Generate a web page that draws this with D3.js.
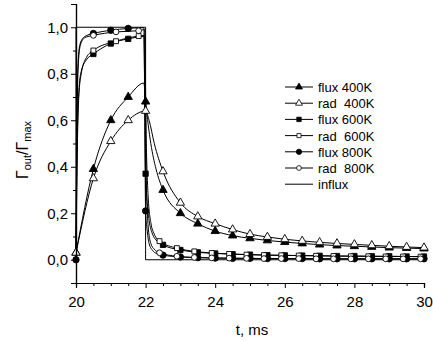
<!DOCTYPE html>
<html>
<head>
<meta charset="utf-8">
<script src="https://cdn.jsdelivr.net/npm/d3@7"></script>
<style>
  body { margin: 0; background: #fff; }
  text { font-family: "Liberation Sans", Arial, sans-serif; fill: #000; }
</style>
</head>
<body>
<svg id="chart" width="433" height="341"></svg>
<script>
// [t (ms), value, marker? 1/0]
const flux400 = [
  [20, 0.03, 1], [20.5, 0.39, 1], [21, 0.6, 1], [21.5, 0.7, 1], [21.95, 0.76, 0],
  [22, 0.68, 1], [22.15, 0.5, 0], [22.3, 0.39, 0], [22.5, 0.3, 1], [23, 0.2, 1],
  [23.5, 0.155, 1], [24, 0.123, 1], [24.5, 0.104, 1], [25, 0.092, 1], [25.5, 0.083, 1],
  [26, 0.076, 1], [26.5, 0.07, 1], [27, 0.065, 1], [27.5, 0.061, 1], [28, 0.058, 1],
  [28.5, 0.055, 1], [29, 0.052, 1], [29.5, 0.05, 1], [30, 0.048, 1]
];
const rad400 = [
  [20, 0.03, 1], [20.5, 0.35, 1], [21, 0.51, 1], [21.5, 0.6, 1], [22, 0.64, 1],
  [22.1, 0.6, 0], [22.25, 0.5, 0], [22.5, 0.38, 1], [23, 0.245, 1], [23.5, 0.186, 1],
  [24, 0.155, 1], [24.5, 0.13, 1], [25, 0.11, 1], [25.5, 0.098, 1], [26, 0.088, 1],
  [26.5, 0.081, 1], [27, 0.075, 1], [27.5, 0.07, 1], [28, 0.066, 1], [28.5, 0.062, 1],
  [29, 0.058, 1], [29.5, 0.055, 1], [30, 0.052, 1]
];
const flux600 = [
  [20, 0, 0], [20.03, 0.45, 0], [20.08, 0.72, 0], [20.15, 0.81, 0], [20.3, 0.86, 0],
  [20.5, 0.885, 1], [21, 0.93, 1], [21.5, 0.95, 1], [21.95, 0.96, 0], [22, 0.37, 1],
  [22.05, 0.24, 0], [22.1, 0.17, 0], [22.2, 0.11, 0], [22.3, 0.085, 0], [22.5, 0.064, 1],
  [23, 0.042, 1], [23.5, 0.032, 1], [24, 0.027, 1], [24.5, 0.024, 1], [25, 0.022, 1],
  [25.5, 0.02, 1], [26, 0.019, 1], [26.5, 0.018, 1], [27, 0.017, 1], [27.5, 0.016, 1],
  [28, 0.016, 1], [28.5, 0.015, 1], [29, 0.015, 1], [29.5, 0.014, 1], [30, 0.014, 1]
];
const rad600 = [
  [20, 0, 0], [20.03, 0.4, 0], [20.08, 0.7, 0], [20.15, 0.8, 0], [20.3, 0.87, 0],
  [20.5, 0.9, 1], [21.15, 0.94, 1], [21.8, 0.962, 1], [21.97, 0.965, 0], [22.02, 0.5, 0],
  [22.07, 0.28, 0], [22.15, 0.16, 0], [22.25, 0.11, 0], [22.4, 0.08, 1], [22.9, 0.05, 1],
  [23.4, 0.036, 1], [23.9, 0.029, 1], [24.4, 0.025, 1], [24.9, 0.022, 1], [25.4, 0.02, 1],
  [25.9, 0.019, 1], [26.4, 0.018, 1], [26.9, 0.017, 1], [27.4, 0.016, 1], [27.9, 0.015, 1],
  [28.4, 0.015, 1], [28.9, 0.014, 1], [29.4, 0.014, 1], [29.9, 0.013, 1]
];
const flux800 = [
  [20, 0, 1], [20.02, 0.5, 0], [20.06, 0.85, 0], [20.12, 0.93, 0], [20.25, 0.96, 0],
  [20.5, 0.973, 1], [21, 0.987, 1], [21.5, 0.995, 1], [21.95, 0.998, 0], [22, 0.21, 1],
  [22.05, 0.12, 0], [22.1, 0.07, 0], [22.2, 0.04, 0], [22.3, 0.028, 0], [22.5, 0.02, 1],
  [23, 0.012, 1], [23.5, 0.009, 1], [24, 0.007, 1], [24.5, 0.006, 1], [25, 0.006, 1],
  [25.5, 0.005, 1], [26, 0.005, 1], [26.5, 0.005, 1], [27, 0.004, 1], [27.5, 0.004, 1],
  [28, 0.004, 1], [28.5, 0.004, 1], [29, 0.004, 1], [29.5, 0.004, 1], [30, 0.004, 1]
];
const rad800 = [
  [20, 0, 0], [20.02, 0.45, 0], [20.06, 0.82, 0], [20.12, 0.92, 0], [20.25, 0.955, 0],
  [20.5, 0.965, 1], [21.15, 0.98, 1], [21.8, 0.985, 1], [21.97, 0.99, 0], [22.02, 0.35, 0],
  [22.07, 0.15, 0], [22.15, 0.07, 0], [22.25, 0.045, 0], [22.4, 0.03, 1], [22.9, 0.015, 1],
  [23.4, 0.01, 1], [23.9, 0.008, 1], [24.4, 0.007, 1], [24.9, 0.006, 1], [25.4, 0.005, 1],
  [25.9, 0.005, 1], [26.4, 0.005, 1], [26.9, 0.004, 1], [27.4, 0.004, 1], [27.9, 0.004, 1],
  [28.4, 0.004, 1], [28.9, 0.004, 1], [29.4, 0.004, 1], [29.9, 0.004, 1]
];
const influx = [[20, 0], [20, 1], [22, 1], [22, 0], [30, 0]];

const xTicks = [20, 22, 24, 26, 28, 30];
const yTicks = [0, 0.2, 0.4, 0.6, 0.8, 1.0];

const series = [
  { name: "flux 400K", data: flux400, symbol: d3.symbolTriangle, filled: true, size: 30 },
  { name: "rad  400K", data: rad400, symbol: d3.symbolTriangle, filled: false, size: 30 },
  { name: "flux 600K", data: flux600, symbol: d3.symbolSquare, filled: true, size: 28 },
  { name: "rad  600K", data: rad600, symbol: d3.symbolSquare, filled: false, size: 24 },
  { name: "flux 800K", data: flux800, symbol: d3.symbolCircle, filled: true, size: 32 },
  { name: "rad  800K", data: rad800, symbol: d3.symbolCircle, filled: false, size: 26 }
];

const svg = d3.select("#chart");
const margin = { top: 4, right: 9, bottom: 58, left: 76 };
const width = 433 - margin.left - margin.right;
const height = 341 - margin.top - margin.bottom;

const x = d3.scaleLinear().domain([20, 30]).range([0, width]);
const y = d3.scaleLinear().domain([-0.1, 1.1]).range([height, 0]);

const g = svg.append("g").attr("transform", `translate(${margin.left},${margin.top})`);

// influx step
g.append("path")
  .datum(influx)
  .attr("fill", "none")
  .attr("stroke", "#000")
  .attr("stroke-width", 1)
  .attr("d", d3.line().x((d) => x(d[0])).y((d) => y(d[1])));

// curves
const line = d3.line().x((d) => x(d[0])).y((d) => y(d[1])).curve(d3.curveMonotoneX);
series.forEach((s) => {
  g.append("path")
    .datum(s.data)
    .attr("fill", "none")
    .attr("stroke", "#000")
    .attr("stroke-width", 1)
    .attr("d", line);
});

// markers
series.forEach((s) => {
  g.selectAll(null)
    .data(s.data.filter((d) => d[2]))
    .enter()
    .append("path")
    .attr("transform", (d) => `translate(${x(d[0])},${y(d[1])})`)
    .attr("d", d3.symbol().type(s.symbol).size(s.size))
    .attr("fill", s.filled ? "#000" : "#fff")
    .attr("stroke", "#000")
    .attr("stroke-width", 0.9);
});

// X axis
const xAxis = g.append("g").attr("transform", `translate(0,${height})`);
xAxis.call(d3.axisBottom(x).tickValues(xTicks).tickSize(5).tickPadding(8).tickFormat(d3.format("d")));
xAxis.append("g").call(
  d3.axisBottom(x).tickValues(d3.range(20, 30.01, 0.5).filter((v) => v % 2 !== 0)).tickSize(3).tickFormat("")
);
xAxis.selectAll(".domain").attr("stroke-width", 1.2);
xAxis.selectAll("text").style("font-size", "15px").style("font-family", "Liberation Sans, Arial");

// Y axis
const yAxis = g.append("g");
yAxis.call(
  d3.axisLeft(y).tickValues(yTicks).tickSize(5).tickPadding(3)
    .tickFormat((d) => d3.format(".1f")(d).replace(".", ","))
);
yAxis.append("g").call(d3.axisLeft(y).tickValues([-0.1, 0.1, 0.3, 0.5, 0.7, 0.9, 1.1]).tickSize(3).tickFormat(""));
yAxis.selectAll(".domain").attr("stroke-width", 1.2);
yAxis.selectAll("text").style("font-size", "15px").style("font-family", "Liberation Sans, Arial");
svg.selectAll(".tick line").attr("stroke", "#000");

// axis titles
g.append("text")
  .attr("x", width / 2 + 2)
  .attr("y", height + 52)
  .attr("text-anchor", "middle")
  .style("font-size", "15px")
  .text("t, ms");

const yt = svg.append("text")
  .attr("transform", "translate(28,150) rotate(-90)")
  .attr("text-anchor", "middle")
  .style("font-size", "16px");
yt.append("tspan").text("Γ");
yt.append("tspan").attr("dy", 3).style("font-size", "11px").text("out");
yt.append("tspan").attr("dy", -3).text("/Γ");
yt.append("tspan").attr("dy", 3).style("font-size", "11px").text("max");

// legend
const legend = svg.append("g").attr("transform", "translate(285,87)");
const legendItems = series.concat([{ name: "influx", symbol: null }]);
legendItems.forEach((s, i) => {
  const row = legend.append("g").attr("transform", `translate(0,${i * 16.2})`);
  row.append("line").attr("x1", 0).attr("x2", 28).attr("stroke", "#000").attr("stroke-width", 1);
  if (s.symbol) {
    row.append("path")
      .attr("transform", "translate(14,0)")
      .attr("d", d3.symbol().type(s.symbol).size(s.size * 0.7))
      .attr("fill", s.filled ? "#000" : "#fff")
      .attr("stroke", "#000")
      .attr("stroke-width", 0.8);
  }
  row.append("text")
    .attr("x", 33)
    .attr("y", 5)
    .style("font-size", "13px")
    .style("white-space", "pre")
    .text(s.name);
});
</script>
</body>
</html>
